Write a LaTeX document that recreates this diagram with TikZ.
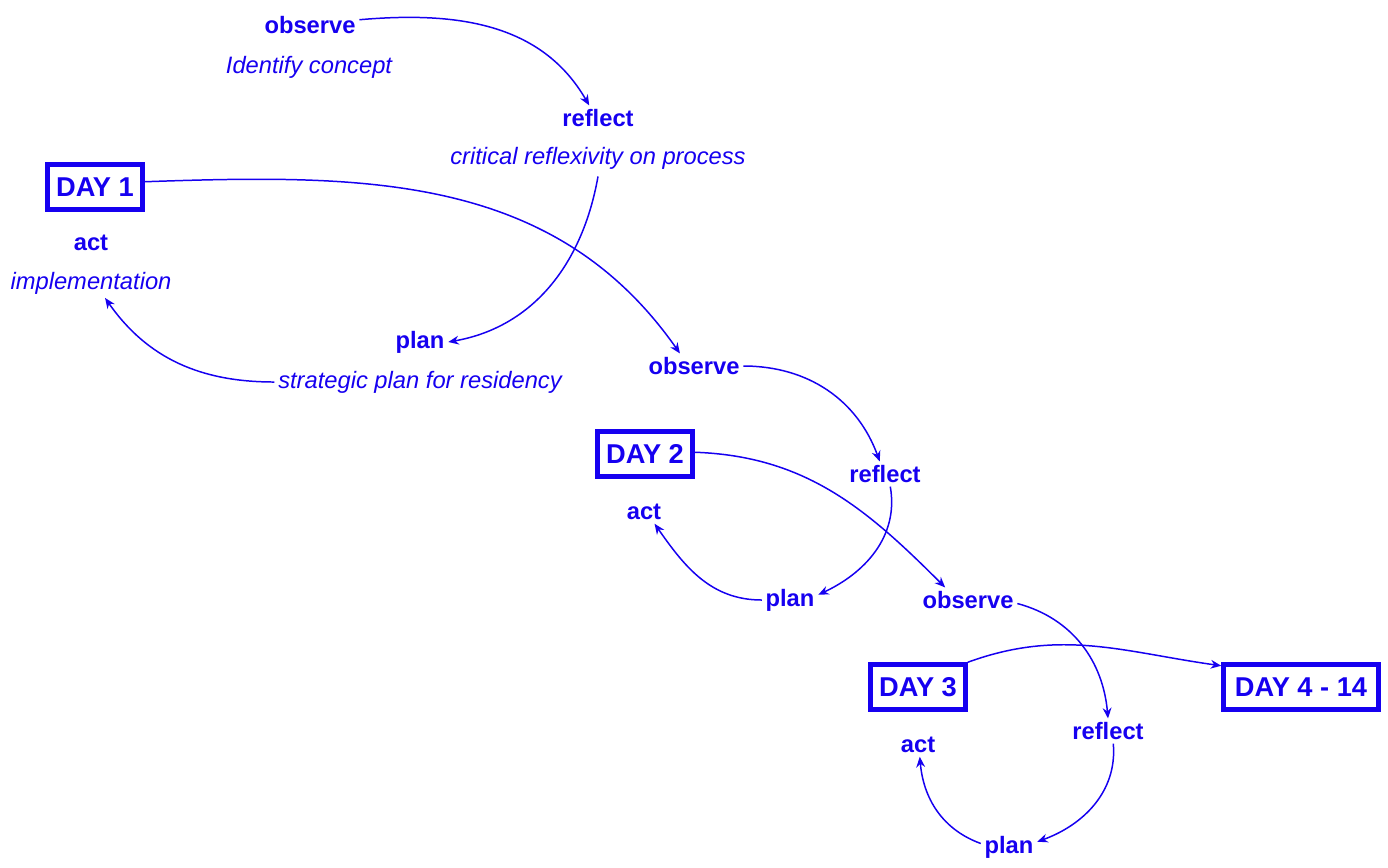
\documentclass[tikz,border=0pt]{standalone}
\usepackage{fontspec}
\setmainfont{Liberation Sans}
\definecolor{cycleblue}{RGB}{22,0,240}
\tikzset{
	step label/.style={font=\fontsize{13.5}{16}\selectfont\bfseries, text=cycleblue, inner sep=2pt},
	note label/.style={font=\fontsize{13.5}{16}\selectfont\itshape, text=cycleblue, inner sep=2pt},
	daybox/.style={draw=cycleblue, line width=2.6pt, text=cycleblue, font=\fontsize{15.5}{18}\selectfont\bfseries,
		minimum height=0.9cm, minimum width=1.9cm, inner sep=0pt},
	cyclearrow/.style={draw=cycleblue, line width=0.85pt, -{Stealth[length=6pt,width=5pt]}}
}
\usetikzlibrary{arrows.meta}
\begin{document}
\begin{tikzpicture}[x=0.02cm, y=-0.02cm]
	\useasboundingbox (0,0) rectangle (1388,867);
	
	%Day 1
	\node[step label] (obs1) at (310,25) {observe};
	\node[note label] (idc) at (309,67) {Identify concept};
	\node[step label] (ref1) at (598,118) {reflect};
	\node[note label] (crit) at (598,158) {critical reflexivity on process};
	\node[daybox] (day1) at (95,187) {DAY 1};
	\node[step label] (act1) at (91,243) {act};
	\node[note label] (impl) at (91,283) {implementation};
	\node[step label] (plan1) at (420,342) {plan};
	\node[note label] (strat) at (420,382) {strategic plan for residency};
	
	%Day 2
	\node[step label] (obs2) at (694,366) {observe};
	\node[daybox] (day2) at (645,454) {DAY 2};
	\node[step label] (ref2) at (885,474) {reflect};
	\node[step label] (act2) at (644,512) {act};
	\node[step label] (plan2) at (790,600) {plan};
	
	%Day 3
	\node[step label] (obs3) at (968,600) {observe};
	\node[daybox] (day3) at (918,687) {DAY 3};
	\node[daybox, minimum width=3.1cm] (day4) at (1301,687) {DAY 4 - 14};
	\node[step label] (ref3) at (1108,731) {reflect};
	\node[step label] (act3) at (918,745) {act};
	\node[step label] (plan3) at (1009,847) {plan};
	
	%arrows
	\draw[cyclearrow] ([yshift=3pt]obs1.east) to[out=5, in=120] ([xshift=-5pt]ref1.north);
	\draw[cyclearrow] ([yshift=-2pt]crit.south) to[out=-100, in=10] (plan1.east);
	\draw[cyclearrow] (strat.west) to[out=180, in=-55] ([xshift=8pt]impl.south);
	\draw[cyclearrow] ([yshift=3pt]day1.east) to[out=2, in=125] ([xshift=-8pt]obs2.north);
	\draw[cyclearrow] (obs2.east) to[out=0, in=110] ([xshift=-3pt]ref2.north);
	\draw[cyclearrow] ([xshift=3pt]ref2.south) to[out=-80, in=25] ([yshift=3pt]plan2.east);
	\draw[cyclearrow] (plan2.west) to[out=180, in=-55] ([xshift=6pt]act2.south);
	\draw[cyclearrow] ([yshift=1pt]day2.east) to[out=-2, in=135] ([xshift=-13pt]obs3.north);
	\draw[cyclearrow] ([yshift=-2pt]obs3.east) to[out=-15, in=95] (ref3.north);
	\draw[cyclearrow] ([xshift=3pt]ref3.south) to[out=-85, in=20] ([yshift=3pt]plan3.east);
	\draw[cyclearrow] ([yshift=2pt]plan3.west) to[out=160, in=-85] ([xshift=1pt]act3.south);
	\draw[cyclearrow] (day3.north east) to[out=20, in=172] ([yshift=-2pt]day4.north west);
\end{tikzpicture}
\end{document}
